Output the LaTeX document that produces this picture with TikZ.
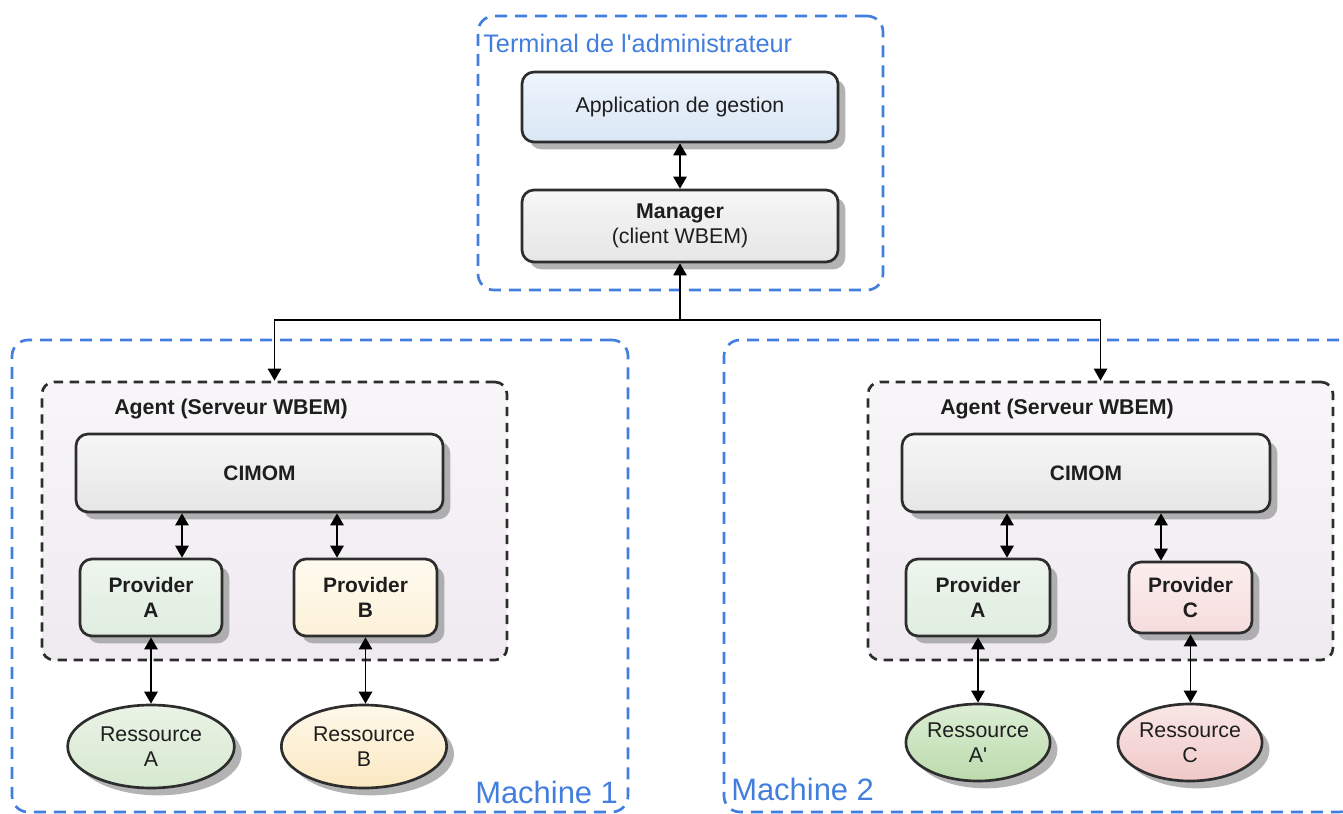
\documentclass[tikz,border=0pt]{standalone}
\usepackage{fontspec}
\setmainfont{Liberation Sans}[Ligatures=TeXOff]
\usetikzlibrary{arrows.meta,shadows,shapes.geometric}
\definecolor{mblue}{RGB}{66,126,222}
\definecolor{edge}{RGB}{45,45,45}
\definecolor{txt}{RGB}{30,30,30}
\definecolor{appT}{HTML}{EEF4FB}\definecolor{appB}{HTML}{D9E7F5}
\definecolor{grT}{HTML}{F6F6F6}\definecolor{grB}{HTML}{E6E6E6}
\definecolor{gnT}{HTML}{EEF6EE}\definecolor{gnB}{HTML}{DFEDDF}
\definecolor{rgT}{HTML}{EAF3E6}\definecolor{rgB}{HTML}{D6E8CF}
\definecolor{ylT}{HTML}{FFFBEF}\definecolor{ylB}{HTML}{FCF1D9}
\definecolor{ryT}{HTML}{FEF8EA}\definecolor{ryB}{HTML}{FBE8C1}
\definecolor{pkT}{HTML}{FBEEEE}\definecolor{pkB}{HTML}{F6DCDC}
\definecolor{rpT}{HTML}{F9E6E6}\definecolor{rpB}{HTML}{F0C8C8}
\definecolor{rdT}{HTML}{DDEED5}\definecolor{rdB}{HTML}{BBDBAC}
\definecolor{agT}{HTML}{F8F6F9}\definecolor{agB}{HTML}{EFEAF0}
\begin{document}
\begin{tikzpicture}[x=0.75pt,y=-0.75pt,
  box/.style={draw=edge, line width=2pt, rounded corners=9pt,
    drop shadow={shadow xshift=5.5pt,shadow yshift=-5.5pt,fill=black!40,opacity=0.75},
    font=\fontsize{16}{19}\selectfont, align=center, text=txt, inner sep=0pt},
  ress/.style={box, ellipse, rounded corners=0pt},
  bold/.style={font=\fontsize{15.7}{19}\selectfont\bfseries},
  zone/.style={draw=mblue, line width=2pt, dash pattern=on 9pt off 6pt, rounded corners=12pt, inner sep=0pt},
  agent/.style={draw=edge, line width=2pt, dash pattern=on 7pt off 5pt, rounded corners=9pt, inner sep=0pt, top color=agT, bottom color=agB},
  zonelabel/.style={text=mblue, inner sep=0pt, anchor=west},
  agentlabel/.style={font=\fontsize{16}{18}\selectfont\bfseries, text=txt, inner sep=0pt},
  biarrow/.style={{Triangle[width=10pt,length=9pt]}-{Triangle[width=10pt,length=9pt]}, line width=1.4pt, black},
  arr/.style={-{Triangle[width=10pt,length=9pt]}, line width=1.2pt, black}
]
\useasboundingbox (0,0) rectangle (1343,814);

% containers
\node[zone, minimum width=303.75pt, minimum height=205.5pt] (term) at (680.5,153) {};
\node[zonelabel, font=\fontsize{19}{22}\selectfont] (termlbl) at (483,43) {Terminal de l'administrateur};
\node[zone, minimum width=462pt, minimum height=354pt] (m1) at (320,576) {};
\node[zone, minimum width=473.25pt, minimum height=354pt] (m2) at (1039.5,576) {};
\node[zonelabel, font=\fontsize{23.2}{26}\selectfont] (m1lbl) at (475,792) {Machine 1};
\node[zonelabel, font=\fontsize{23.2}{26}\selectfont] (m2lbl) at (731,789) {Machine 2};

\node[agent, minimum width=348.75pt, minimum height=208.5pt] (ag1) at (274.5,521) {};
\node[agent, minimum width=348.75pt, minimum height=208.5pt] (ag2) at (1100.5,521) {};
\node[agentlabel] (ag1lbl) at (231,409) {Agent (Serveur WBEM)};
\node[agentlabel] (ag2lbl) at (1057,409) {Agent (Serveur WBEM)};

% top boxes
\node[box, top color=appT, bottom color=appB, minimum width=237pt, minimum height=52.5pt] (app) at (680,107) {Application de gestion};
\node[box, top color=grT, bottom color=grB, minimum width=237pt, minimum height=54pt] (mgr) at (680,226) {{\bfseries Manager}\\(client WBEM)};

% machine 1
\node[box, bold, top color=grT, bottom color=grB, minimum width=275.25pt, minimum height=58.5pt] (cim1) at (259.5,473) {CIMOM};
\node[box, bold, top color=gnT, bottom color=gnB, minimum width=106.5pt, minimum height=57.75pt] (pa1) at (151,597.5) {Provider\\A};
\node[box, bold, top color=ylT, bottom color=ylB, minimum width=107.25pt, minimum height=57.75pt] (pb1) at (365.5,597.5) {Provider\\B};
\node[ress, top color=rgT, bottom color=rgB, minimum width=125pt, minimum height=62.25pt] (ra1) at (151,746.5) {Ressource\\A};
\node[ress, top color=ryT, bottom color=ryB, minimum width=124pt, minimum height=62.25pt] (rb1) at (364,746.5) {Ressource\\B};

% machine 2
\node[box, bold, top color=grT, bottom color=grB, minimum width=276pt, minimum height=58.5pt] (cim2) at (1086,473) {CIMOM};
\node[box, bold, top color=gnT, bottom color=gnB, minimum width=108pt, minimum height=57.75pt] (pa2) at (978,597.5) {Provider\\A};
\node[box, bold, top color=pkT, bottom color=pkB, minimum width=92.25pt, minimum height=53.25pt] (pc2) at (1190.5,597.5) {Provider\\C};
\node[ress, top color=rdT, bottom color=rdB, minimum width=106.5pt, minimum height=57.75pt] (ra2) at (978,742.5) {Ressource\\A'};
\node[ress, top color=rpT, bottom color=rpB, minimum width=106.5pt, minimum height=57.75pt] (rc2) at (1190,742.5) {Ressource\\C};

% connectors
\draw[biarrow] (app) -- (mgr);
\coordinate (j) at (680,320);
\draw[arr] (j) -- (mgr.south);
\draw[arr] (j) -| (ag1.north);
\draw[arr] (j) -| (ag2.north);

\coordinate (xa1) at (182,0);
\coordinate (xb1) at (337,0);
\coordinate (xa2) at (1007,0);
\coordinate (xc2) at (1161,0);
\draw[biarrow] (xa1 |- cim1.south) -- (xa1 |- pa1.north);
\draw[biarrow] (xb1 |- cim1.south) -- (xb1 |- pb1.north);
\draw[biarrow] (xa2 |- cim2.south) -- (xa2 |- pa2.north);
\draw[biarrow] (xc2 |- cim2.south) -- (xc2 |- pc2.north);

\draw[biarrow] (pa1.south) -- (ra1.north);
\draw[biarrow] (pb1.south) -- (pb1.south |- rb1.north);
\draw[biarrow] (pa2.south) -- (ra2.north);
\draw[biarrow] (pc2.south) -- (pc2.south |- rc2.north);
\end{tikzpicture}
\end{document}
